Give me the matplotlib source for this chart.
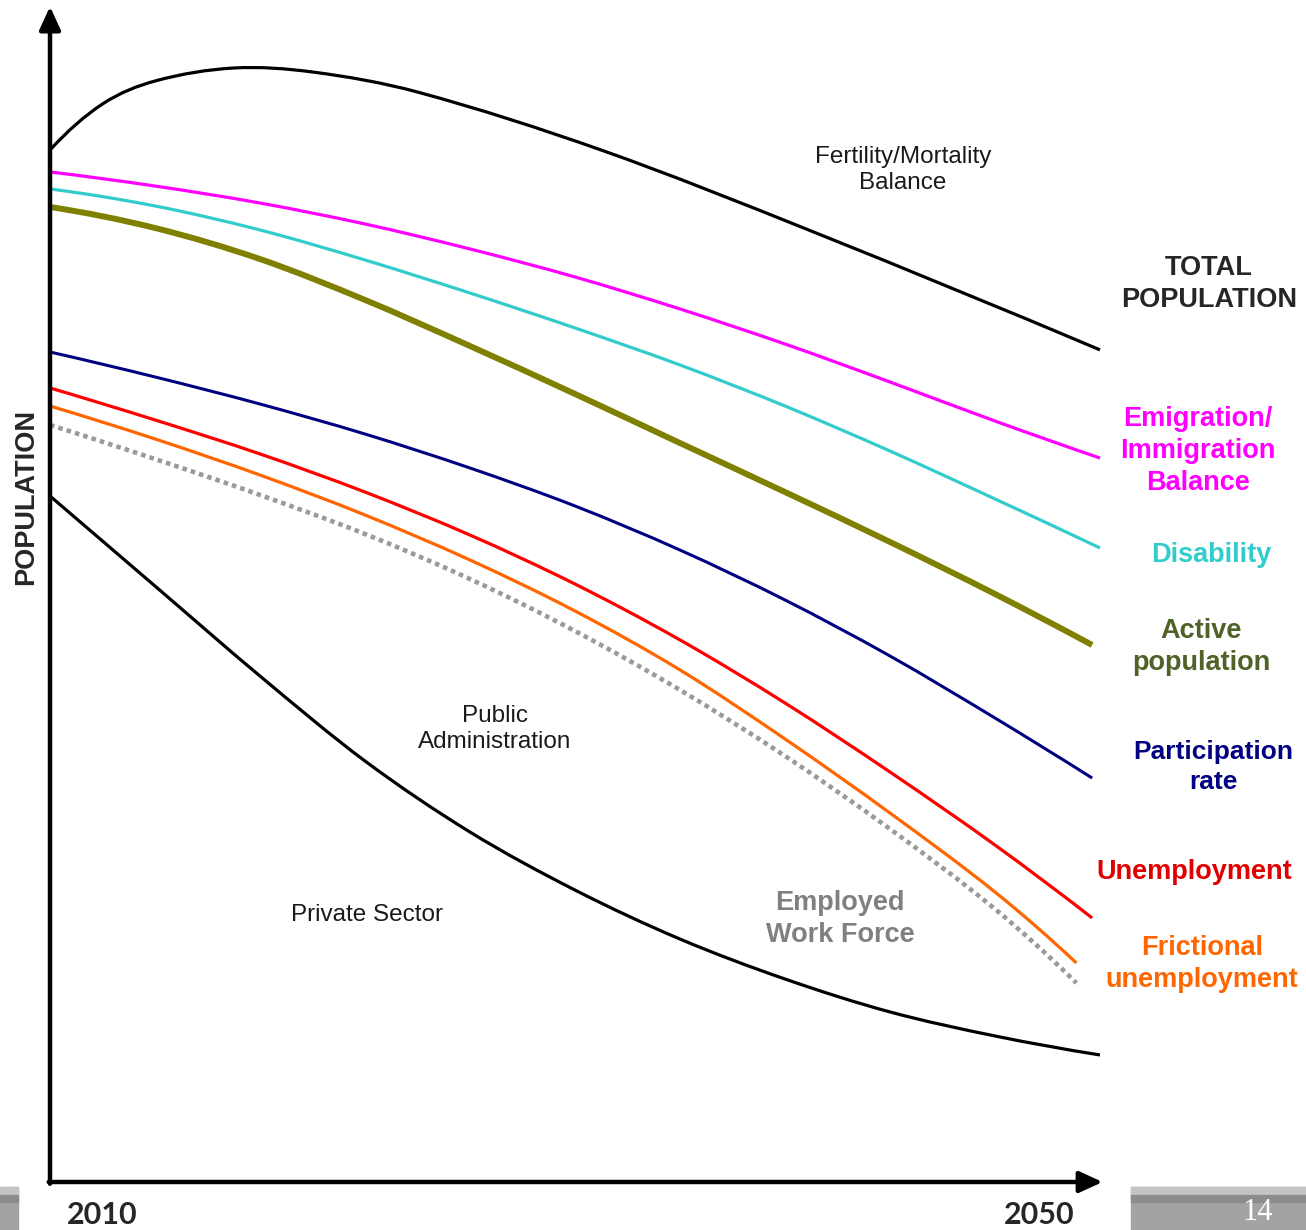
import numpy as np
import matplotlib
matplotlib.use("Agg")
import matplotlib.pyplot as plt
from matplotlib.patches import Rectangle, PathPatch
from matplotlib.path import Path

plt.rcParams['font.family'] = ['Liberation Sans', 'DejaVu Sans']

# readings every 4 years, each series with its own last point
yrs = list(range(2010, 2047, 4))

total_x = [2010, 2012, 2014, 2017, 2020, 2024, 2031, 2039, 2050]
total = [88.05, 91.98, 93.94, 95.05, 94.71, 93.00, 88.05, 81.14, 71.00]

emig_x = yrs + [2050]
emig = [86.18, 84.98, 83.53, 81.74, 79.61, 77.22, 74.49, 71.50, 68.26, 64.93, 61.77]

disab_x = yrs + [2050]
disab = [84.73, 83.28, 81.23, 78.67, 75.85, 72.87, 69.71, 66.21, 62.37, 58.28, 54.10]

active_x = yrs + [2049.7]
active = [83.19, 81.40, 78.75, 75.26, 71.33, 67.24, 63.05, 58.87, 54.61, 50.17, 45.82]

partic_x = yrs + [2049.7]
partic = [70.82, 68.69, 66.38, 63.82, 60.92, 57.68, 53.92, 49.66, 44.88, 39.59, 34.47]

unemp_x = yrs + [2049.7]
unemp = [67.75, 65.02, 62.12, 58.87, 55.20, 51.02, 46.25, 40.87, 34.98, 28.75, 22.53]

fric_x = yrs + [2049.1]
fric = [66.21, 63.40, 60.32, 56.91, 53.07, 48.72, 43.69, 37.80, 31.48, 24.74, 18.69]

employed_x = yrs + [2049.1]
employed = [64.59, 61.69, 58.62, 55.29, 51.45, 47.01, 41.98, 36.35, 30.12, 23.29, 16.98]

private_x = yrs + [2050]
private = [58.53, 50.85, 43.17, 35.92, 29.86, 24.91, 20.73, 17.32, 14.51, 12.46, 10.84]

W, H = 1306, 1230
fig = plt.figure(figsize=(W / 100, H / 100), dpi=100)
ax = fig.add_axes([50 / W, (H - 1182) / H, 1050 / W, 1172 / H])
ax.set_xlim(2010, 2050)
ax.set_ylim(0, 100)
ax.axis('off')


def fx(x, y):
    return x / W, 1 - y / H


def curve(xs, ys, **kw):
    # smooth curve through the readings (cubic hermite drawn as bezier segments)
    x = np.asarray(xs, float)
    y = np.asarray(ys, float)
    n = len(x)
    s = np.zeros(n)
    s[1:-1] = (y[2:] - y[:-2]) / (x[2:] - x[:-2])
    s[0] = 2 * (y[1] - y[0]) / (x[1] - x[0]) - s[1]
    s[-1] = 2 * (y[-1] - y[-2]) / (x[-1] - x[-2]) - s[-2]
    verts = [(x[0], y[0])]
    codes = [Path.MOVETO]
    for i in range(n - 1):
        h = (x[i + 1] - x[i]) / 3
        verts += [(x[i] + h, y[i] + s[i] * h), (x[i + 1] - h, y[i + 1] - s[i + 1] * h),
                  (x[i + 1], y[i + 1])]
        codes += [Path.CURVE4] * 3
    ax.add_patch(PathPatch(Path(verts, codes), fill=False, clip_on=False,
                           capstyle='butt', **kw))


curve(total_x, total, edgecolor='black', lw=2.3)
curve(emig_x, emig, edgecolor='#FF00FF', lw=2.3)
curve(disab_x, disab, edgecolor='#33CCCC', lw=2.3)
curve(active_x, active, edgecolor='#808000', lw=4.3)
curve(partic_x, partic, edgecolor='#000080', lw=2.2)
curve(unemp_x, unemp, edgecolor='#FF0000', lw=2.3)
curve(fric_x, fric, edgecolor='#FF6600', lw=2.3)
curve(employed_x, employed, edgecolor='#9a9a9a', lw=3.3, ls=(0, (1, 0.9)))
curve(private_x, private, edgecolor='black', lw=2.3)

# axes with arrow heads
arrow = dict(arrowstyle='-|>,head_length=0.7,head_width=0.32', color='black',
             lw=3.2, mutation_scale=20, shrinkA=0, shrinkB=0)
ax.annotate('', xy=(2010, 100.3), xytext=(2010, -0.15), arrowprops=arrow, annotation_clip=False)
ax.annotate('', xy=(2050.1, 0), xytext=(2009.95, 0), arrowprops=arrow, annotation_clip=False)

# right-hand labels
bold = dict(fontweight='bold', ha='center', va='center', linespacing=1.3)
fig.text(*fx(1209, 284), 'TOTAL\nPOPULATION', color='#262626', fontsize=19.5, **bold)
fig.text(*fx(1198, 451), 'Emigration/\nImmigration\nBalance', color='#FF00FF', fontsize=19.5, **bold)
fig.text(*fx(1211, 555), 'Disability', color='#33CCCC', fontsize=19.5, **bold)
fig.text(*fx(1201, 647), 'Active\npopulation', color='#4F6228', fontsize=19.5, **bold)
fig.text(*fx(1213, 767), 'Participation\nrate', color='#000080', fontsize=19, **bold)
fig.text(*fx(1194, 872), 'Unemployment', color='#E00000', fontsize=19.5, **bold)
fig.text(*fx(1202, 964), 'Frictional\nunemployment', color='#FF6600', fontsize=19.5, **bold)
fig.text(*fx(840, 919), 'Employed\nWork Force', color='#808080', fontsize=19.5, **bold)

plain = dict(ha='center', va='center', fontsize=17.5, color='#1a1a1a', linespacing=1.25)
fig.text(*fx(903, 170), 'Fertility/Mortality\nBalance', **plain)
fig.text(*fx(495, 729), 'Public\nAdministration', **plain)
fig.text(*fx(367, 915), 'Private Sector', **plain)

fig.text(*fx(26, 497), 'POPULATION', rotation=90, color='#262626', fontweight='bold',
         fontsize=19.5, ha='center', va='center')

fig.text(*fx(102, 1215), '2010', family='Lato', fontweight='bold', fontsize=22,
         color='#262626', ha='center', va='center')
fig.text(*fx(1039, 1215), '2050', family='Lato', fontweight='bold', fontsize=22,
         color='#262626', ha='center', va='center')

# slide footer bars
for x0, w in [(0, 18), (1131, W - 1131)]:
    fig.patches.append(Rectangle((x0 / W, 0), w / W, (H - 1187) / H, transform=fig.transFigure,
                                 color='#a3a3a3', zorder=0))
    fig.patches.append(Rectangle((x0 / W, (H - 1195) / H), w / W, 8 / H, transform=fig.transFigure,
                                 color='#c4c4c4', zorder=0))
    fig.patches.append(Rectangle((x0 / W, (H - 1202) / H), w / W, 7 / H, transform=fig.transFigure,
                                 color='#8c8c8c', zorder=0))
fig.text(*fx(1258, 1212), '14', family='Liberation Serif', fontsize=22, color='white',
         ha='center', va='center')

fig.savefig('out.png', dpi=100)
